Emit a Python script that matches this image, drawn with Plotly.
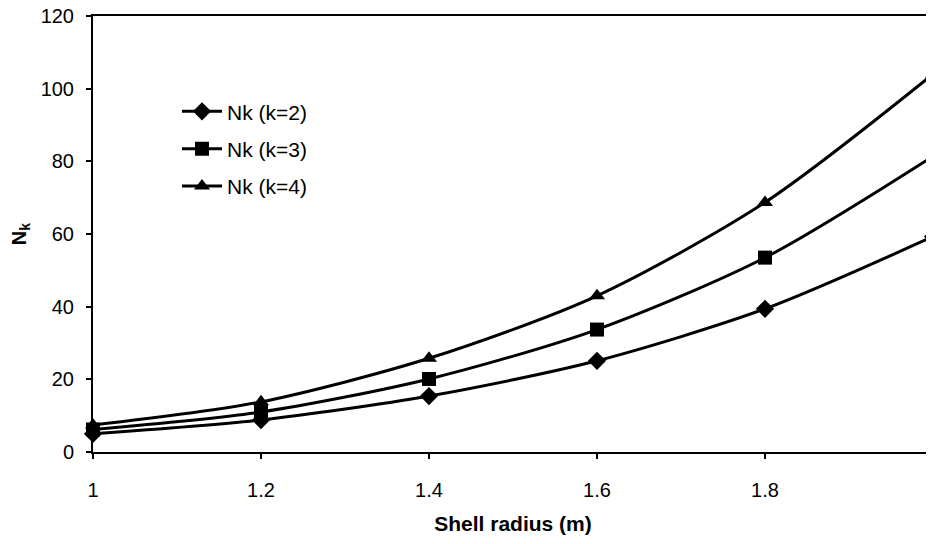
import plotly.graph_objects as go

radius = [1.0, 1.2, 1.4, 1.6, 1.8, 2.0]
nk2 = [5.0, 8.8, 15.4, 25.1, 39.4, 59.3]
nk3 = [6.2, 11.0, 20.1, 33.7, 53.5, 81.4]
nk4 = [7.4, 13.8, 25.8, 43.0, 68.7, 104.0]
names = ["Nk (k=2)", "Nk (k=3)", "Nk (k=4)"]
symbols = ["diamond", "square", "triangle-up"]
x_ticks = [1, 1.2, 1.4, 1.6, 1.8, 2]
x_labels = ["1", "1.2", "1.4", "1.6", "1.8", "2"]
y_ticks = [0, 20, 40, 60, 80, 100, 120]

FONT = "Arial, Liberation Sans, sans-serif"

fig = go.Figure()
for i, (ys, nm, sym) in enumerate(zip([nk2, nk3, nk4], names, symbols)):
    fig.add_trace(go.Scatter(
        x=radius, y=ys, name=nm, mode="lines+markers",
        line=dict(color="black", width=3, shape="spline", smoothing=0.8),
        marker=dict(symbol=sym, size=14, color="black"),
        cliponaxis=False, legendgroup=f"g{i}",
    ))

# page body has an 8px margin, so the figure is offset by 8px; compensate in margins
fig.update_layout(
    width=934, height=544,
    margin=dict(l=85, r=9, t=8, b=100),
    paper_bgcolor="white", plot_bgcolor="white",
    font=dict(family=FONT, color="black", size=18),
    showlegend=True,
    legend=dict(x=0.1, y=0.8275, xanchor="left", yanchor="top",
                bgcolor="rgba(0,0,0,0)", font=dict(size=21, color="black"),
                tracegroupgap=7, itemwidth=40),
    xaxis=dict(range=[1, 2], tickvals=x_ticks, ticktext=x_labels, automargin=False,
               showgrid=False, zeroline=False, showline=True, linecolor="black",
               linewidth=2, mirror=True, ticks="outside", ticklen=5, tickwidth=1.5,
               tickcolor="black", tickfont=dict(size=20), ticklabelstandoff=14,
               ticklabeloverflow="allow",
               title=dict(text="<b>Shell radius (m)</b>", font=dict(size=21), standoff=16)),
    yaxis=dict(range=[0, 120], tickvals=y_ticks, automargin=False,
               showgrid=False, zeroline=False, showline=True, linecolor="black",
               linewidth=2, ticks="outside", ticklen=5, tickwidth=1.5,
               tickcolor="black", tickfont=dict(size=20), ticklabelstandoff=8,
               ticklabeloverflow="allow",
               title=dict(text="<b>N<sub>k</sub></b>", font=dict(size=20), standoff=20)),
)

fig.write_html("out.html")
